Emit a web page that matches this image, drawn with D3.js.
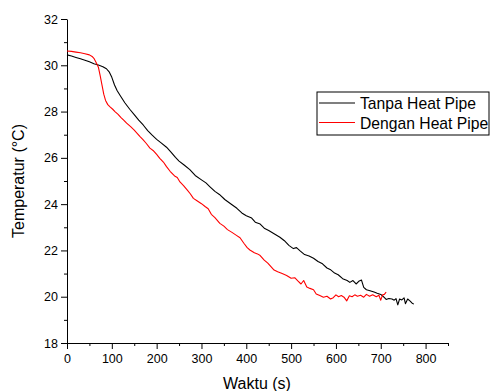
<!DOCTYPE html>
<html>
<head>
<meta charset="utf-8">
<script src="https://cdn.jsdelivr.net/npm/d3@7"></script>
<style>
  body { margin: 0; background: #fff; }
  svg { font-family: Arial, "Liberation Sans", sans-serif; }
  .axis path, .axis line { stroke: #000; stroke-width: 1; }
  .axis text { font-size: 12.5px; fill: #000; }
</style>
</head>
<body>
<div id="chart"></div>
<script>
// series names
const seriesNames = ["Tanpa Heat Pipe", "Dengan Heat Pipe"];
const seriesColors = ["#000000", "#ff0000"];

// [waktu (s), temperatur (°C)]
const tanpaData = [
  [0,30.45],[10,30.40],[20,30.34],[30,30.28],[40,30.22],[50,30.15],[60,30.07],[70,30.01],[80,29.94],[88,29.85],
  [94,29.72],[100,29.48],[106,29.15],[112,28.9],[120,28.65],[129,28.38],[140,28.1],[150,27.87],[160,27.63],[170,27.42],
  [180,27.18],[190,26.98],[200,26.8],[210,26.65],[222,26.46],[232,26.25],[242,26.02],[250,25.86],[262,25.68],[274,25.49],
  [286,25.24],[300,25.05],[310,24.92],[319,24.75],[330,24.55],[340,24.42],[352,24.2],[365,24.02],[379,23.82],[390,23.62],
  [400,23.5],[412,23.4],[420,23.22],[431,23.14],[440,22.96],[450,22.86],[462,22.72],[475,22.57],[485,22.42],[495,22.22],
  [505,22.08],[512,22.12],[520,21.98],[530,21.82],[540,21.76],[550,21.66],[560,21.52],[570,21.42],[580,21.24],[587,21.18],
  [597,21.02],[605,20.95],[615,20.78],[625,20.7],[631,20.62],[638,20.7],[645,20.55],[652,20.68],[657,20.72],[662,20.4],
  [668,20.3],[676,20.26],[685,20.2],[692,20.15],[700,20.1],[706,20.0],[712,19.88],[718,19.92],[725,19.9],[730,19.85],
  [734,19.92],[738,19.65],[742,19.9],[747,19.86],[752,19.95],[755,19.7],[760,19.9],[765,19.82],[770,19.72],[774,19.68]
];

const denganData = [
  [0,30.62],[10,30.60],[20,30.57],[30,30.54],[40,30.5],[50,30.45],[56,30.38],[60,30.3],[65,30.12],[70,29.92],
  [74,29.55],[78,29.15],[82,28.75],[86,28.48],[91,28.3],[96,28.2],[102,28.1],[107,28.0],[114,27.88],[120,27.75],
  [127,27.62],[133,27.5],[142,27.35],[150,27.2],[157,27.05],[163,26.92],[170,26.78],[177,26.62],[185,26.42],[192,26.32],
  [200,26.15],[207,25.98],[215,25.82],[222,25.62],[230,25.42],[240,25.22],[246,25.15],[252,24.96],[260,24.8],[268,24.62],
  [275,24.45],[282,24.25],[290,24.15],[300,24.02],[308,23.9],[315,23.8],[322,23.56],[330,23.42],[341,23.17],[350,23.05],
  [358,22.9],[368,22.78],[378,22.65],[386,22.55],[395,22.3],[402,22.12],[408,22.02],[418,21.9],[425,21.85],[431,21.78],
  [440,21.58],[448,21.45],[455,21.3],[462,21.15],[470,21.08],[480,21.0],[490,20.92],[500,20.8],[508,20.82],[515,20.68],
  [522,20.55],[528,20.7],[535,20.42],[542,20.36],[550,20.3],[556,20.12],[564,20.05],[572,19.98],[580,20.02],[588,19.9],
  [594,19.96],[600,20.08],[606,20.0],[612,20.05],[618,19.98],[624,19.82],[630,20.04],[636,20.0],[642,20.08],[648,20.02],
  [655,20.06],[662,19.98],[668,20.1],[675,20.02],[682,20.08],[690,20.0],[696,20.06],[700,19.85],[704,20.08],[708,20.1],
  [712,20.2]
];

// tick values
const xTicks = [0, 100, 200, 300, 400, 500, 600, 700, 800];
const xMinorTicks = [50, 150, 250, 350, 450, 550, 650, 750, 850];
const yTicks = [18, 20, 22, 24, 26, 28, 30, 32];
const yMinorTicks = [19, 21, 23, 25, 27, 29, 31];

const width = 492, height = 391;
const margin = { top: 19, right: 44, bottom: 48, left: 67 };

const svg = d3.select("#chart").append("svg")
  .attr("width", width)
  .attr("height", height);

const x = d3.scaleLinear().domain([0, 850]).range([margin.left, width - margin.right]);
const y = d3.scaleLinear().domain([18, 32]).range([height - margin.bottom, margin.top]);

// minor ticks
svg.append("g")
  .attr("class", "axis")
  .attr("transform", `translate(0,${height - margin.bottom})`)
  .call(d3.axisBottom(x).tickValues(xMinorTicks).tickSize(3).tickFormat(""))
  .select(".domain").remove();

svg.append("g")
  .attr("class", "axis")
  .attr("transform", `translate(${margin.left},0)`)
  .call(d3.axisLeft(y).tickValues(yMinorTicks).tickSize(3).tickFormat(""))
  .select(".domain").remove();

// major axes
svg.append("g")
  .attr("class", "axis")
  .attr("transform", `translate(0,${height - margin.bottom})`)
  .call(d3.axisBottom(x).tickValues(xTicks).tickSize(6).tickSizeOuter(0).tickPadding(5).tickFormat(d3.format("d")));

svg.append("g")
  .attr("class", "axis")
  .attr("transform", `translate(${margin.left},0)`)
  .call(d3.axisLeft(y).tickValues(yTicks).tickSize(6).tickSizeOuter(0).tickPadding(3).tickFormat(d3.format("d")));

// lines
const line = d3.line()
  .x(d => x(d[0]))
  .y(d => y(d[1]));

[tanpaData, denganData].forEach((data, i) => {
  svg.append("path")
    .datum(data)
    .attr("fill", "none")
    .attr("stroke", seriesColors[i])
    .attr("stroke-width", 1.1)
    .attr("stroke-linejoin", "round")
    .attr("d", line);
});

// axis titles
svg.append("text")
  .attr("x", 257)
  .attr("y", 389)
  .attr("text-anchor", "middle")
  .style("font-size", "16px")
  .text("Waktu (s)");

svg.append("text")
  .attr("transform", `translate(24,${(margin.top + height - margin.bottom) / 2}) rotate(-90)`)
  .attr("text-anchor", "middle")
  .style("font-size", "16px")
  .text("Temperatur (°C)");

// legend
const legend = svg.append("g").attr("transform", "translate(317,92)");

legend.append("rect")
  .attr("width", 172)
  .attr("height", 43)
  .attr("fill", "#fff")
  .attr("stroke", "#000")
  .attr("stroke-width", 1);

seriesNames.forEach((name, i) => {
  const row = legend.append("g").attr("transform", `translate(0,${11 + i * 19.5})`);
  row.append("line")
    .attr("x1", 2).attr("x2", 38)
    .attr("stroke", seriesColors[i])
    .attr("stroke-width", 1.1);
  row.append("text")
    .attr("x", 43)
    .attr("y", 6)
    .style("font-size", "15.7px")
    .text(name);
});
</script>
</body>
</html>
